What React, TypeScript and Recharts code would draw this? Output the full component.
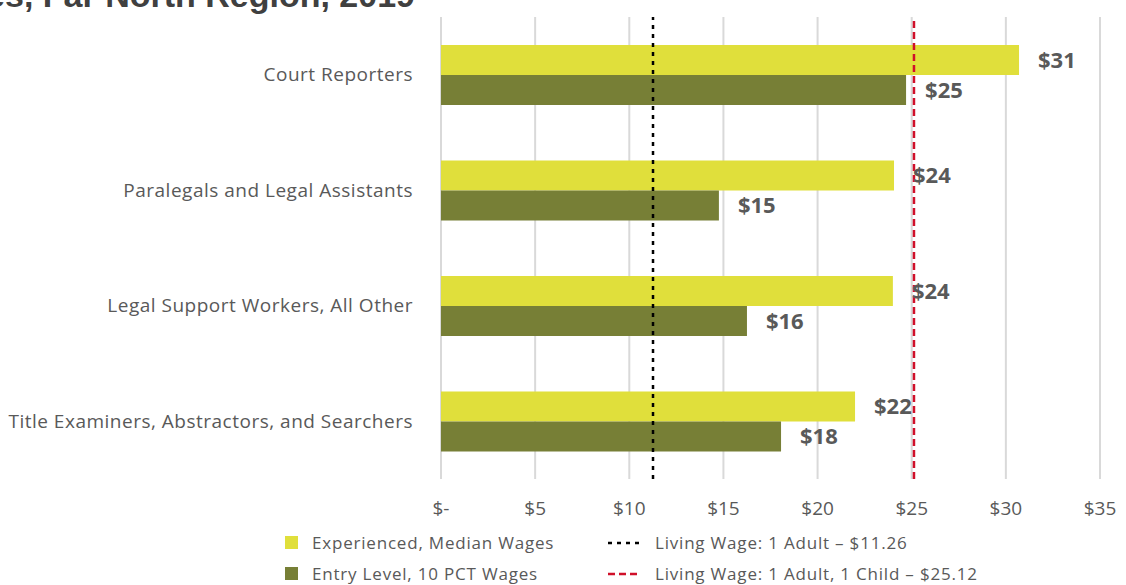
import React from "react";
import {
  BarChart,
  Bar,
  XAxis,
  YAxis,
  CartesianGrid,
  ReferenceLine,
  LabelList,
} from "recharts";

// ocupaciones y salarios por hora
const occupations = [
  "Court Reporters",
  "Paralegals and Legal Assistants",
  "Legal Support Workers, All Other",
  "Title Examiners, Abstractors, and Searchers",
];
const medianWages = [30.7, 24.06, 24.0, 21.99];
const entryWages = [24.7, 14.76, 16.25, 18.06];
const xTicks = [0, 5, 10, 15, 20, 25, 30, 35];

const livingWageAdult = 11.26;
const livingWageChild = 25.12;

const YELLOW = "#e0df3b";
const OLIVE = "#777f36";
const GRAY = "#595959";
const FONT = "'Open Sans', sans-serif";

const data = occupations.map((name, i) => ({
  name,
  median: medianWages[i],
  entry: entryWages[i],
}));

const money = (v: number) => `$${Math.round(v)}`;

export default function App() {
  return (
    <div
      style={{
        position: "absolute",
        left: 0,
        top: 0,
        width: 1126,
        height: 585,
        overflow: "hidden",
        background: "#fff",
        fontFamily: FONT,
      }}
    >
      <div
        style={{
          position: "absolute",
          right: 1126 - 415,
          top: -24,
          whiteSpace: "nowrap",
          fontFamily: "'Liberation Sans', Arial, sans-serif",
          fontWeight: 700,
          fontSize: 34,
          color: "#404040",
        }}
      >
        Hourly Wages, Far North Region, 2019
      </div>

      <BarChart
        width={1126}
        height={585}
        data={data}
        layout="vertical"
        barCategoryGap="24%"
        barGap={0}
        margin={{ top: 17, right: 26, left: 0, bottom: 76 }}
        style={{ position: "absolute", left: 0, top: 0 }}
      >
        <CartesianGrid horizontal={false} stroke="#d9d9d9" strokeWidth={2} />
        <XAxis
          type="number"
          domain={[0, 35]}
          ticks={xTicks}
          tickFormatter={(v: number) => (v === 0 ? "$-" : `$${v}`)}
          axisLine={false}
          tickLine={false}
          tickMargin={17}
          tick={{ fill: GRAY, fontSize: 19, fontFamily: FONT }}
          interval={0}
        />
        <YAxis
          type="category"
          dataKey="name"
          width={441}
          axisLine={false}
          tickLine={false}
          tickMargin={22}
          tick={{ fill: GRAY, fontSize: 19, fontFamily: FONT, letterSpacing: 0.5 }}
          interval={0}
        />
        <Bar dataKey="median" fill={YELLOW} barSize={30} isAnimationActive={false}>
          <LabelList
            dataKey="median"
            position="right"
            offset={19}
            formatter={money}
            fill={GRAY}
            fontSize={22}
            fontWeight={700}
            fontFamily={FONT}
          />
        </Bar>
        <Bar dataKey="entry" fill={OLIVE} barSize={30} isAnimationActive={false}>
          <LabelList
            dataKey="entry"
            position="right"
            offset={19}
            formatter={money}
            fill={GRAY}
            fontSize={22}
            fontWeight={700}
            fontFamily={FONT}
          />
        </Bar>
        <ReferenceLine
          x={livingWageAdult}
          stroke="#000"
          strokeWidth={2.5}
          strokeDasharray="4 5"
        />
        <ReferenceLine
          x={livingWageChild}
          stroke="#d0102a"
          strokeWidth={2.5}
          strokeDasharray="7 4"
        />
      </BarChart>

      {/* leyenda */}
      <div style={{ position: "absolute", left: 285, top: 532, fontSize: 17, letterSpacing: 0.8, color: GRAY, lineHeight: "21px" }}>
        <div style={{ display: "flex", alignItems: "center", height: 21 }}>
          <span style={{ width: 13, height: 13, background: YELLOW, marginRight: 14 }} />
          Experienced, Median Wages
        </div>
        <div style={{ display: "flex", alignItems: "center", height: 21, marginTop: 10 }}>
          <span style={{ width: 13, height: 13, background: OLIVE, marginRight: 14 }} />
          Entry Level, 10 PCT Wages
        </div>
      </div>
      <div style={{ position: "absolute", left: 608, top: 532, fontSize: 17, letterSpacing: 0.8, color: GRAY, lineHeight: "21px" }}>
        <div style={{ display: "flex", alignItems: "center", height: 21 }}>
          <svg width={32} height={4} style={{ marginRight: 15 }}>
            <line x1={0} y1={2} x2={32} y2={2} stroke="#000" strokeWidth={2.5} strokeDasharray="4 5" />
          </svg>
          Living Wage: 1 Adult – $11.26
        </div>
        <div style={{ display: "flex", alignItems: "center", height: 21, marginTop: 10 }}>
          <svg width={32} height={4} style={{ marginRight: 15 }}>
            <line x1={0} y1={2} x2={32} y2={2} stroke="#d0102a" strokeWidth={2.5} strokeDasharray="7 4" />
          </svg>
          Living Wage: 1 Adult, 1 Child – $25.12
        </div>
      </div>
    </div>
  );
}
